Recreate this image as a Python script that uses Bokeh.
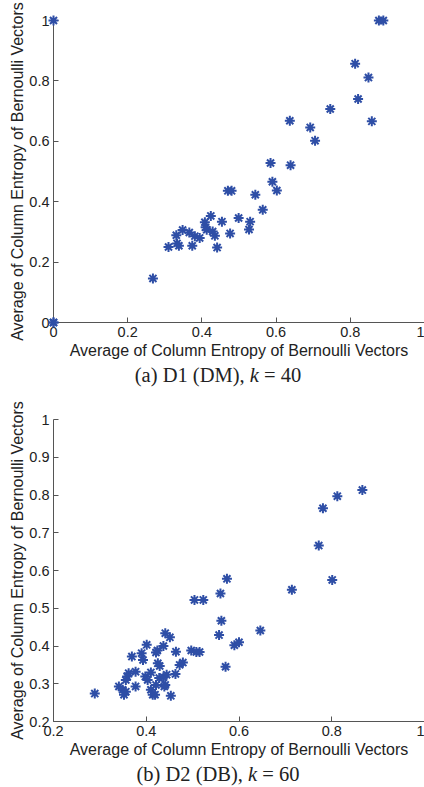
from bokeh.plotting import figure
from bokeh.models import FixedTicker, PrintfTickFormatter, Range1d, Div
from bokeh.layouts import column
from bokeh.embed import file_html
from bokeh.resources import INLINE

# ---- data ----
d1_x = [0.0, 0.0, 0.0,
        0.268, 0.310, 0.333, 0.338, 0.331, 0.348, 0.366, 0.374, 0.381, 0.394,
        0.408, 0.410, 0.413, 0.424, 0.429, 0.435, 0.441, 0.454, 0.476, 0.499,
        0.527, 0.530, 0.564, 0.544, 0.470, 0.480, 0.602, 0.590, 0.585, 0.639,
        0.637, 0.692, 0.705, 0.746, 0.813, 0.849, 0.821, 0.858, 0.877, 0.889]
d1_y = [1.0, 0.0, 0.0,
        0.146, 0.250, 0.262, 0.254, 0.289, 0.306, 0.298, 0.254, 0.286, 0.280,
        0.332, 0.315, 0.307, 0.353, 0.301, 0.287, 0.248, 0.334, 0.295, 0.346,
        0.308, 0.334, 0.373, 0.423, 0.436, 0.436, 0.437, 0.466, 0.528, 0.521,
        0.668, 0.646, 0.602, 0.707, 0.857, 0.811, 0.740, 0.666, 1.0, 1.0]

d2_x = [0.866, 0.812, 0.781, 0.772, 0.801, 0.574, 0.714, 0.504, 0.523, 0.560,
        0.562, 0.557, 0.646, 0.590, 0.600, 0.571, 0.289, 0.441, 0.451, 0.401,
        0.464, 0.437, 0.424, 0.421, 0.390, 0.369, 0.393, 0.425, 0.429, 0.472,
        0.479, 0.362, 0.359, 0.356, 0.377, 0.398, 0.403, 0.410, 0.428, 0.437,
        0.444, 0.463, 0.341, 0.349, 0.356, 0.352, 0.377, 0.410, 0.414, 0.419,
        0.421, 0.441, 0.453, 0.497, 0.508, 0.515, 0.439]
d2_y = [0.813, 0.797, 0.765, 0.666, 0.575, 0.578, 0.549, 0.522, 0.522, 0.539,
        0.467, 0.429, 0.441, 0.402, 0.410, 0.345, 0.274, 0.434, 0.423, 0.403,
        0.385, 0.400, 0.388, 0.383, 0.381, 0.372, 0.363, 0.354, 0.347, 0.350,
        0.356, 0.328, 0.319, 0.310, 0.332, 0.319, 0.310, 0.330, 0.315, 0.317,
        0.324, 0.326, 0.293, 0.284, 0.279, 0.271, 0.293, 0.284, 0.271, 0.271,
        0.297, 0.297, 0.268, 0.388, 0.384, 0.384, 0.293]

ticks_1 = [0, 0.2, 0.4, 0.6, 0.8, 1.0]
ticks_2x = [0.2, 0.4, 0.6, 0.8, 1.0]
ticks_2y = [0.2, 0.3, 0.4, 0.5, 0.6, 0.7, 0.8, 0.9, 1.0]

axis_label = "Average of Column Entropy of Bernoulli Vectors"
caption_a = "(a) D1 (DM), <i>k</i> = 40"
caption_b = "(b) D2 (DB), <i>k</i> = 60"

BLUE = "#2e4ea6"
FONT = "Liberation Sans"
W = 424


def make_fig(xs, ys, xr, yr, xt, yt, height, top):
    p = figure(width=W, height=height, output_backend="svg",
               toolbar_location=None, x_range=Range1d(*xr), y_range=Range1d(*yr),
               min_border_left=53, min_border_right=0, min_border_top=top,
               min_border_bottom=40, margin=(0, 0, 0, 0))
    p.outline_line_color = None
    p.xgrid.visible = False
    p.ygrid.visible = False
    p.xaxis.ticker = FixedTicker(ticks=xt)
    p.yaxis.ticker = FixedTicker(ticks=yt)
    for ax in (p.xaxis[0], p.yaxis[0]):
        ax.formatter = PrintfTickFormatter(format="%g")
        ax.axis_label = axis_label
        ax.axis_label_text_font = FONT
        ax.axis_label_text_font_style = "normal"
        ax.axis_label_text_font_size = "16px"
        ax.axis_label_text_color = "#222222"
        ax.major_label_text_font = FONT
        ax.major_label_text_font_size = "14.5px"
        ax.major_label_text_color = "#222222"
        ax.axis_line_color = "#555555"
        ax.axis_line_width = 1
        ax.major_tick_line_color = "#555555"
        ax.major_tick_in = 5
        ax.major_tick_out = 0
        ax.minor_tick_line_color = None
        ax.major_label_standoff = 4
        ax.axis_label_standoff = 2
    p.yaxis[0].axis_label_standoff = 0
    p.scatter(xs, ys, marker="asterisk", size=10, line_color=BLUE,
              line_width=2, level="overlay")
    return p


p1 = make_fig(d1_x, d1_y, (0, 1), (0, 1), ticks_1, ticks_1, 362, 20)
p2 = make_fig(d2_x, d2_y, (0.2, 1), (0.2, 1), ticks_2x, ticks_2y, 373, 31)

cap_style = {"font-family": "Liberation Serif", "font-size": "20.5px",
             "color": "#222222", "text-align": "center", "width": f"{W}px",
             "padding-left": "12px", "box-sizing": "border-box",
             "line-height": "26px"}
c1 = Div(text=caption_a, width=W, height=26, styles=cap_style,
         margin=(0, 0, 0, 0))
c2 = Div(text=caption_b, width=W, height=26, styles=cap_style,
         margin=(0, 0, 0, 0))

layout = column(p1, c1, p2, c2, spacing=0, margin=(0, 0, 0, 0))
open("out.html", "w").write(file_html(layout, INLINE))
